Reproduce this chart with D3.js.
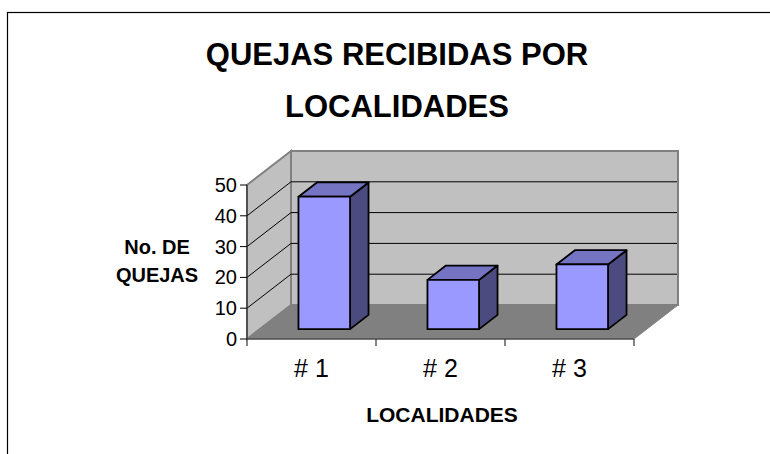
<!DOCTYPE html>
<html>
<head>
<meta charset="utf-8">
<script src="https://cdn.jsdelivr.net/npm/d3@7"></script>
<style>
  body { margin: 0; background: #fff; }
  svg text { font-family: "Liberation Sans", Arial, sans-serif; fill: #000; }
</style>
</head>
<body>
<svg id="chart" width="770" height="454"></svg>
<script>
const categories = ["# 1", "# 2", "# 3"];
const quejas = [43, 16, 21];
const yTicks = [0, 10, 20, 30, 40, 50];
const titleLines = ["QUEJAS RECIBIDAS POR", "LOCALIDADES"];
const yTitleLines = ["No. DE", "QUEJAS"];
const xTitle = "LOCALIDADES";

const svg = d3.select("#chart");

// front plane of the 3d box
const x = d3.scaleBand().domain(categories).range([247, 634]);
const y = d3.scaleLinear().domain([0, 50]).range([339, 185]);
const depthX = 44, depthY = -34;   // offset of the back wall
const barIn = 0.29, barOut = 0.71;  // bar depth as fraction of box depth
const barFrac = 0.4;

function pt(px, py, d) {
    return [px + d * depthX, py + d * depthY];
}
function poly(points) {
    return points.map(p => p.join(",")).join(" ");
}

// chart area frame
svg.append("rect")
    .attr("x", 7.5).attr("y", 12.5)
    .attr("width", 800).attr("height", 500)
    .attr("fill", "none")
    .attr("stroke", "#000")
    .attr("stroke-width", 1.2);

const x0 = x.range()[0], x1 = x.range()[1];
const yTop = y(50), yBot = y(0);

// back wall
svg.append("polygon")
    .attr("points", poly([pt(x0, yTop, 1), pt(x1, yTop, 1), pt(x1, yBot, 1), pt(x0, yBot, 1)]))
    .attr("fill", "#c0c0c0")
    .attr("stroke", "#808080")
    .attr("stroke-width", 2);

// left wall
svg.append("polygon")
    .attr("points", poly([[x0, yTop], pt(x0, yTop, 1), pt(x0, yBot, 1), [x0, yBot]]))
    .attr("fill", "#c0c0c0")
    .attr("stroke", "#808080")
    .attr("stroke-width", 2);

// floor
svg.append("polygon")
    .attr("points", poly([[x0, yBot], pt(x0, yBot, 1), pt(x1, yBot, 1), [x1, yBot]]))
    .attr("fill", "#808080")
    .attr("stroke", "#808080")
    .attr("stroke-width", 1);

// gridlines: diagonals on left wall, horizontals on back wall
const grid = yTicks.filter(t => t > 0 && t < 50);
svg.selectAll("line.diag")
    .data(grid)
    .enter()
    .append("line")
    .attr("class", "diag")
    .attr("x1", x0).attr("y1", d => y(d))
    .attr("x2", d => pt(x0, y(d), 1)[0])
    .attr("y2", d => pt(x0, y(d), 1)[1])
    .attr("stroke", "#000")
    .attr("stroke-width", 1);

svg.selectAll("line.back")
    .data(grid)
    .enter()
    .append("line")
    .attr("class", "back")
    .attr("x1", d => pt(x0, y(d), 1)[0])
    .attr("y1", d => pt(x0, y(d), 1)[1])
    .attr("x2", d => pt(x1, y(d), 1)[0] - 1)
    .attr("y2", d => pt(x1, y(d), 1)[1])
    .attr("stroke", "#000")
    .attr("stroke-width", 1);

// y axis line and ticks
svg.append("line")
    .attr("x1", x0).attr("y1", yTop)
    .attr("x2", x0).attr("y2", yBot)
    .attr("stroke", "#333")
    .attr("stroke-width", 1.2);

svg.selectAll("line.ytick")
    .data(yTicks)
    .enter()
    .append("line")
    .attr("class", "ytick")
    .attr("x1", x0 - 7).attr("x2", x0)
    .attr("y1", d => y(d)).attr("y2", d => y(d))
    .attr("stroke", "#000");

svg.selectAll("text.ylab")
    .data(yTicks)
    .enter()
    .append("text")
    .attr("class", "ylab")
    .attr("x", x0 - 10)
    .attr("y", d => y(d) + 7)
    .attr("text-anchor", "end")
    .attr("font-size", 20)
    .text(d => d);

// x axis line and ticks
svg.append("line")
    .attr("x1", x0).attr("y1", yBot)
    .attr("x2", x1).attr("y2", yBot)
    .attr("stroke", "#333")
    .attr("stroke-width", 1.2);

const xTickPos = categories.map(c => x(c)).concat([x1]);
svg.selectAll("line.xtick")
    .data(xTickPos)
    .enter()
    .append("line")
    .attr("class", "xtick")
    .attr("x1", d => d).attr("x2", d => d)
    .attr("y1", yBot).attr("y2", yBot + 7)
    .attr("stroke", "#333")
    .attr("stroke-width", 1.2);

svg.selectAll("text.xlab")
    .data(categories)
    .enter()
    .append("text")
    .attr("class", "xlab")
    .attr("x", d => x(d) + x.bandwidth() / 2)
    .attr("y", 377)
    .attr("text-anchor", "middle")
    .attr("font-size", 25)
    .text(d => d);

// bars
const bars = svg.selectAll("g.bar")
    .data(categories.map((c, i) => ({cat: c, v: quejas[i]})))
    .enter()
    .append("g")
    .attr("class", "bar");

function barGeom(d) {
    const cx = x(d.cat) + x.bandwidth() / 2;
    const w = x.bandwidth() * barFrac;
    const l = cx - w / 2, r = cx + w / 2;
    return {l, r, top: y(d.v), bot: y(0)};
}

bars.append("polygon")  // side
    .attr("points", d => {
        const g = barGeom(d);
        return poly([pt(g.r, g.top, barIn), pt(g.r, g.top, barOut), pt(g.r, g.bot, barOut), pt(g.r, g.bot, barIn)]);
    })
    .attr("fill", "#4b4b80")
    .attr("stroke", "#000")
    .attr("stroke-width", 1.8)
    .attr("stroke-linejoin", "round");

bars.append("polygon")  // top
    .attr("points", d => {
        const g = barGeom(d);
        return poly([pt(g.l, g.top, barIn), pt(g.l, g.top, barOut), pt(g.r, g.top, barOut), pt(g.r, g.top, barIn)]);
    })
    .attr("fill", "#7474c2")
    .attr("stroke", "#000")
    .attr("stroke-width", 1.8)
    .attr("stroke-linejoin", "round");

bars.append("polygon")  // front
    .attr("points", d => {
        const g = barGeom(d);
        return poly([pt(g.l, g.top, barIn), pt(g.r, g.top, barIn), pt(g.r, g.bot, barIn), pt(g.l, g.bot, barIn)]);
    })
    .attr("fill", "#9999ff")
    .attr("stroke", "#000")
    .attr("stroke-width", 1.8)
    .attr("stroke-linejoin", "round");

// titles
svg.selectAll("text.title")
    .data(titleLines)
    .enter()
    .append("text")
    .attr("class", "title")
    .attr("x", 397)
    .attr("y", (d, i) => 65 + i * 52)
    .attr("text-anchor", "middle")
    .attr("font-size", 31)
    .attr("font-weight", "bold")
    .text(d => d);

svg.selectAll("text.ytitle")
    .data(yTitleLines)
    .enter()
    .append("text")
    .attr("class", "ytitle")
    .attr("x", 157)
    .attr("y", (d, i) => 254 + i * 28)
    .attr("text-anchor", "middle")
    .attr("font-size", 20)
    .attr("font-weight", "bold")
    .text(d => d);

svg.append("text")
    .attr("x", 442)
    .attr("y", 422)
    .attr("text-anchor", "middle")
    .attr("font-size", 21)
    .attr("font-weight", "bold")
    .text(xTitle);
</script>
</body>
</html>
